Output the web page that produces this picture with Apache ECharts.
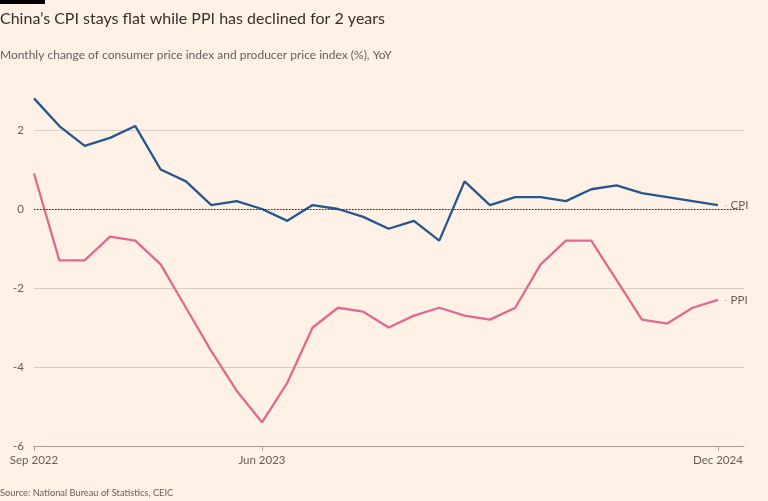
<!DOCTYPE html>
<html>
<head>
<meta charset="utf-8">
<script src="https://cdn.jsdelivr.net/npm/echarts@6/dist/echarts.min.js"></script>
<style>
html,body{margin:0;padding:0;background:#fff1e5;}
#c{width:768px;height:501px;}
</style>
</head>
<body>
<div id="c"></div>
<script>
var months = ['Sep 2022','Oct 2022','Nov 2022','Dec 2022','Jan 2023','Feb 2023','Mar 2023','Apr 2023','May 2023','Jun 2023','Jul 2023','Aug 2023','Sep 2023','Oct 2023','Nov 2023','Dec 2023','Jan 2024','Feb 2024','Mar 2024','Apr 2024','May 2024','Jun 2024','Jul 2024','Aug 2024','Sep 2024','Oct 2024','Nov 2024','Dec 2024'];
var cpi = [2.8,2.1,1.6,1.8,2.1,1.0,0.7,0.1,0.2,0.0,-0.3,0.1,0.0,-0.2,-0.5,-0.3,-0.8,0.7,0.1,0.3,0.3,0.2,0.5,0.6,0.4,0.3,0.2,0.1];
var ppi = [0.9,-1.3,-1.3,-0.7,-0.8,-1.4,-2.5,-3.6,-4.6,-5.4,-4.4,-3.0,-2.5,-2.6,-3.0,-2.7,-2.5,-2.7,-2.8,-2.5,-1.4,-0.8,-0.8,-1.8,-2.8,-2.9,-2.5,-2.3];
var xTickLabels = ['Sep 2022','Jun 2023','Dec 2024'];
var yTicks = [-6,-4,-2,0,2];

var xTickIdx = xTickLabels.map(function(l){return months.indexOf(l);});
function pairs(arr){return arr.map(function(v,i){return [i,v];});}

var chart = echarts.init(document.getElementById('c'), null, {renderer:'canvas'});
var txt = '#33302e', sub = '#66605c', ff = 'Lato';
chart.setOption({
  backgroundColor:'#fff1e5',
  animation:false,
  graphic:[
    {type:'rect',left:0,top:0,shape:{width:45,height:4},style:{fill:'#000'}},
    {type:'text',left:0,top:11,style:{text:'China\u2019s CPI stays flat while PPI has declined for 2 years',font:'16px Lato',fill:txt}},
    {type:'text',left:0,top:49,style:{text:'Monthly change of consumer price index and producer price index (%), YoY',font:'12px Lato',fill:sub}},
    {type:'text',left:0,top:488,style:{text:'Source: National Bureau of Statistics, CEIC',font:'9.3px Lato',fill:sub}}
  ],
  grid:{left:34,right:24,top:90.5,bottom:55,containLabel:false},
  xAxis:{
    type:'value',min:0,max:28.03,
    axisLine:{show:true,onZero:false,lineStyle:{color:'#a69d95',width:1}},
    axisTick:{show:true,length:5,customValues:xTickIdx,lineStyle:{color:'#a69d95'}},
    axisLabel:{customValues:xTickIdx,color:sub,fontSize:11.5,fontFamily:ff,margin:8,
      formatter:function(v){return months[Math.round(v)];}},
    splitLine:{show:false}
  },
  yAxis:{
    type:'value',min:-6,max:3,interval:2,
    axisLine:{show:false},axisTick:{show:false},
    axisLabel:{color:sub,fontSize:11.5,fontFamily:ff,margin:10,showMaxLabel:false,
      formatter:function(v){return yTicks.indexOf(v)>=0?String(v):'';}},
    splitLine:{show:true,showMinLine:false,showMaxLine:false,lineStyle:{color:'#d9cec4',width:1}}
  },
  series:[
    {type:'line',name:'CPI',data:pairs(cpi),symbol:'none',lineStyle:{color:'#24578f',width:2.3},
      endLabel:{show:true,distance:6,formatter:'{d|-} {n|CPI}',rich:{d:{color:'#c8bfb7',fontSize:10},n:{color:sub,fontSize:11.5,fontFamily:ff}}},
      markLine:{silent:true,symbol:'none',label:{show:false},lineStyle:{color:'#33302e',type:[1.5,1.5],width:1.2},data:[{yAxis:0}]},
      z:3},
    {type:'line',name:'PPI',data:pairs(ppi),symbol:'none',lineStyle:{color:'#e0698f',width:2.3},
      endLabel:{show:true,distance:6,formatter:'{d|-} {n|PPI}',rich:{d:{color:'#c8bfb7',fontSize:10},n:{color:sub,fontSize:11.5,fontFamily:ff}}},
      z:3}
  ]
});
</script>
</body>
</html>
